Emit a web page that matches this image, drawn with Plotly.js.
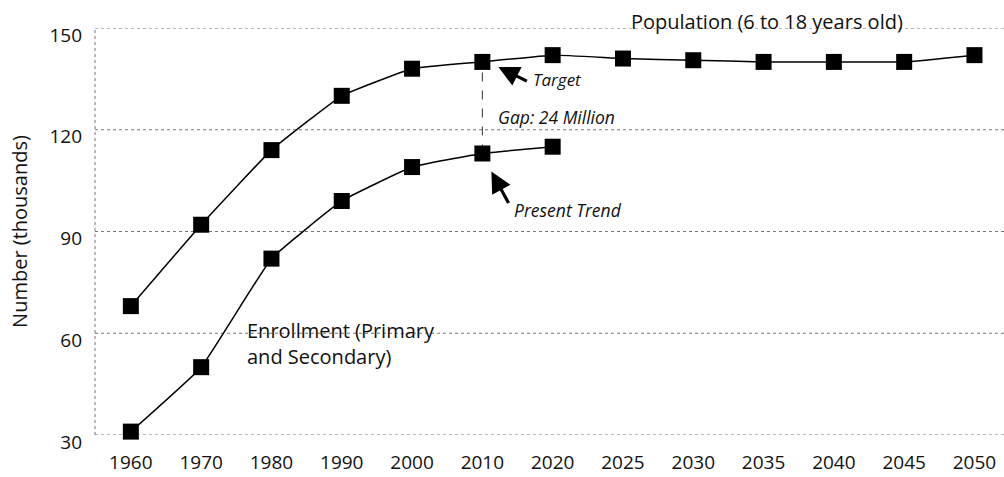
<!DOCTYPE html>
<html>
<head>
<meta charset="utf-8">
<script src="https://cdn.plot.ly/plotly-3.0.1.min.js"></script>
<style>html,body{margin:0;padding:0;background:#fff;}#chart{width:1004px;height:477px;}</style>
</head>
<body>
<div id="chart"></div>
<script>
const years = ['1960','1970','1980','1990','2000','2010','2020','2025','2030','2035','2040','2045','2050'];
const population = [68, 92, 114, 130, 138, 140, 142, 141, 140.5, 140, 140, 140, 142];
const enrollYears = ['1960','1970','1980','1990','2000','2010','2020'];
const enrollment = [31, 50, 82, 99, 109, 113, 115];
const yTicks = [30, 60, 90, 120, 150];
const gapYear = '2010';

const FONT = 'Open Sans, Noto Sans, sans-serif';
const gi = years.indexOf(gapYear);
const ei = enrollYears.indexOf(gapYear);

const traces = [
  {
    x: [gapYear, gapYear], y: [enrollment[ei], population[gi]],
    mode: 'lines', line: {color: '#333', width: 1, dash: 'dash'},
    hoverinfo: 'skip', showlegend: false
  },
  {
    x: years, y: population, mode: 'lines+markers',
    line: {color: '#000', width: 1.5, shape: 'spline', smoothing: 0.3},
    marker: {symbol: 'square', size: 16, color: '#000'},
    cliponaxis: false, showlegend: false
  },
  {
    x: enrollYears, y: enrollment, mode: 'lines+markers',
    line: {color: '#000', width: 1.5, shape: 'spline', smoothing: 0.3},
    marker: {symbol: 'square', size: 16, color: '#000'},
    cliponaxis: false, showlegend: false
  }
];

const gridShapes = yTicks.map(v => ({
  type: 'line', xref: 'paper', yref: 'y', x0: 0, x1: 1, y0: v, y1: v,
  line: {color: '#777', width: 1, dash: 'dot'}, layer: 'below'
}));

const layout = {
  width: 1004, height: 477,
  margin: {l: 95, r: 0, t: 28, b: 42},
  paper_bgcolor: '#fff', plot_bgcolor: '#fff',
  font: {family: FONT, size: 20, color: '#111'},
  xaxis: {
    type: 'category', categoryorder: 'array', categoryarray: years,
    range: [-0.51, 12.42], showgrid: false, zeroline: false, showline: false,
    ticks: '', ticklabelstandoff: 14,
    tickfont: {family: FONT, size: 19, color: '#111'}
  },
  yaxis: {
    range: [30, 150], tickvals: yTicks, ticktext: yTicks.map(String),
    showgrid: false, zeroline: false, showline: false, ticks: '', ticklabelstandoff: 12,
    ticklabelshift: 7,
    tickfont: {family: FONT, size: 19, color: '#111'},
    title: {text: 'Number (thousands)', font: {family: FONT, size: 20, color: '#111'}, standoff: 16}
  },
  shapes: [
    {type: 'line', xref: 'paper', yref: 'paper', x0: 0, x1: 0, y0: 0, y1: 1,
     line: {color: '#777', width: 1, dash: 'dot'}, layer: 'below'}
  ].concat(gridShapes),
  annotations: [
    {xref: 'paper', yref: 'paper', x: 0.5875, y: 1.017, xanchor: 'left', yanchor: 'middle',
     text: 'Population (6 to 18 years old)', showarrow: false, font: {size: 20, color: '#111'}},
    {xref: 'paper', yref: 'paper', x: 0.165, y: 0.226, xanchor: 'left', yanchor: 'middle', align: 'left',
     text: 'Enrollment (Primary<br>and Secondary)', showarrow: false, font: {size: 20, color: '#111'}},
    // Target arrow
    {x: gi, y: population[gi], xshift: 16, yshift: -5, text: '', showarrow: true,
     ax: 30, ay: 15, arrowhead: 2, arrowsize: 1.3, arrowwidth: 3.2, arrowcolor: '#000'},
    {x: gi, y: population[gi], xshift: 49, yshift: -18, xanchor: 'left', yanchor: 'middle',
     text: '<i>Target</i>', showarrow: false, font: {size: 17, color: '#111'}},
    {x: gi, y: population[gi], xshift: 14, yshift: -55, xanchor: 'left', yanchor: 'middle',
     text: '<i>Gap: 24 Million</i>', showarrow: false, font: {size: 17.5, color: '#111'}},
    // Present trend arrow
    {x: gi, y: enrollment[ei], xshift: 9, yshift: -18, text: '', showarrow: true,
     ax: 18, ay: 33, arrowhead: 2, arrowsize: 1.3, arrowwidth: 3.2, arrowcolor: '#000'},
    {x: gi, y: enrollment[ei], xshift: 30, yshift: -57, xanchor: 'left', yanchor: 'middle',
     text: '<i>Present Trend</i>', showarrow: false, font: {size: 17.5, color: '#111'}}
  ]
};

Plotly.newPlot('chart', traces, layout, {displayModeBar: false, staticPlot: true});
</script>
</body>
</html>
